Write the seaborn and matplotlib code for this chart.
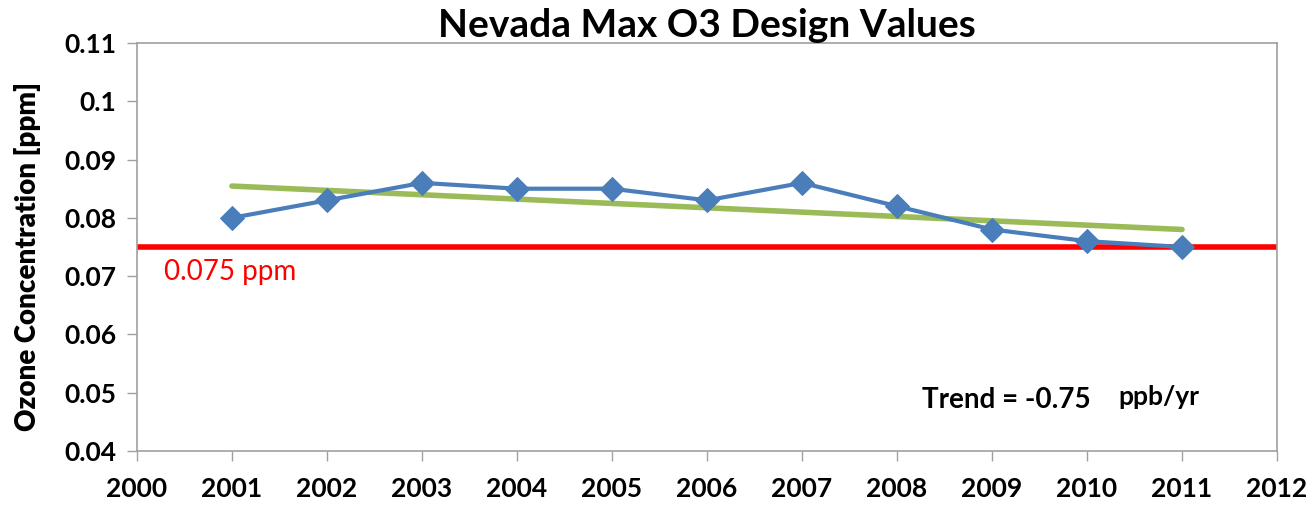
import numpy as np
import pandas as pd
import matplotlib
matplotlib.use("Agg")
import matplotlib.pyplot as plt
import seaborn as sns

years = [2001, 2002, 2003, 2004, 2005, 2006, 2007, 2008, 2009, 2010, 2011]
o3_values = [0.080, 0.083, 0.086, 0.085, 0.085, 0.083, 0.086, 0.082, 0.078, 0.076, 0.075]
standard = 0.075
x_ticks = list(range(2000, 2013))
y_ticks = [0.04, 0.05, 0.06, 0.07, 0.08, 0.09, 0.1, 0.11]
y_tick_labels = ["0.04", "0.05", "0.06", "0.07", "0.08", "0.09", "0.1", "0.11"]

sns.set_theme(style="white")
plt.rcParams['font.family'] = ['Lato', 'DejaVu Sans']
plt.rcParams['text.color'] = 'black'
plt.rcParams['axes.labelcolor'] = 'black'
plt.rcParams['xtick.color'] = 'black'
plt.rcParams['ytick.color'] = 'black'

df = pd.DataFrame({"year": years, "o3": o3_values})

fig = plt.figure(figsize=(13.13, 5.07), dpi=100)
ax = fig.add_axes([0.1043, 0.1105, 0.8683, 0.8047])

ax.axhline(standard, color="#FF0000", lw=4, zorder=2)
sns.regplot(data=df, x="year", y="o3", scatter=False, ci=None, truncate=True,
            line_kws=dict(color="#9BBB59", lw=4, zorder=3), ax=ax)
sns.lineplot(data=df, x="year", y="o3", color="#4A7EBB", lw=3, marker="D",
             markersize=12, markeredgecolor="#4A7EBB", zorder=4, ax=ax)

ax.set_xlim(2000, 2012)
ax.set_ylim(0.04, 0.11)
ax.set_xticks(x_ticks)
ax.set_xticklabels([str(t) for t in x_ticks], fontsize=19, fontweight="bold", color="black")
ax.set_yticks(y_ticks)
ax.set_yticklabels(y_tick_labels, fontsize=19, fontweight="bold", color="black")
ax.tick_params(axis="both", direction="out", length=7, width=1, color="#A0A0A0",
               bottom=True, left=True)
ax.tick_params(axis="x", pad=12)
ax.tick_params(axis="y", pad=8)
for s in ax.spines.values():
    s.set_color("#A0A0A0")
    s.set_linewidth(1.2)
ax.grid(False)
ax.set_xlabel("")
ax.set_ylabel("")
fig.text(0.021, 0.495, "Ozone Concentration [ppm]", rotation=90, fontsize=20,
         fontweight="heavy", color="black", ha="center", va="center")
ax.set_title("Nevada Max O3 Design Values", fontsize=28, fontweight="bold",
             color="black", pad=4)

ax.text(2000.29, 0.0707, "0.075 ppm", color="#FF0000", fontsize=20, va="center", ha="left")
ax.text(2008.26, 0.0487, "Trend = -0.75", color="black", fontsize=20,
        fontweight="bold", va="center", ha="left")
ax.text(2010.33, 0.0493, "ppb/yr", color="black", fontsize=19,
        fontweight="bold", va="center", ha="left")

fig.savefig("out.png", dpi=100)
